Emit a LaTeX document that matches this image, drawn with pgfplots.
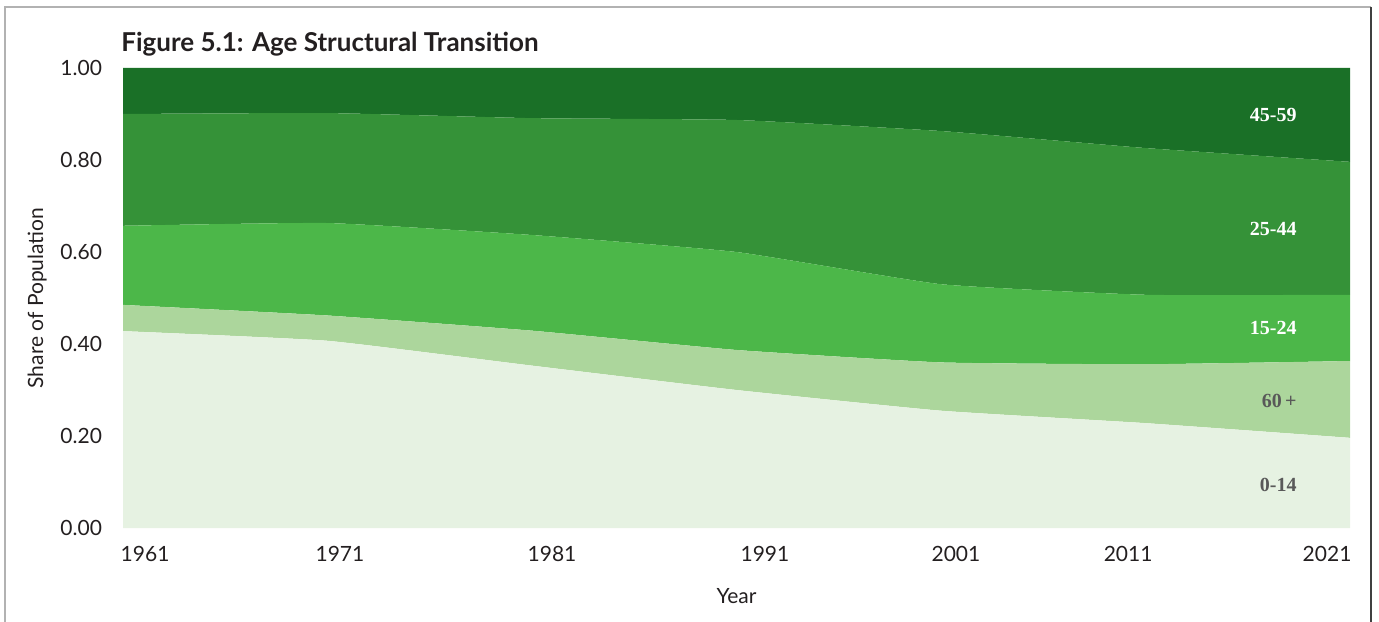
\documentclass[border=0pt]{standalone}
\usepackage{fontspec}
\setmainfont{Lato}
\newfontfamily\labelserif{Liberation Serif}
\usepackage{pgfplots}
\pgfplotsset{compat=1.18}

\definecolor{cA}{RGB}{230,242,226}  % 0-14
\definecolor{cB}{RGB}{172,214,156}  % 60+
\definecolor{cC}{RGB}{76,183,73}    % 15-24
\definecolor{cD}{RGB}{53,146,56}    % 25-44
\definecolor{cE}{RGB}{26,112,39}    % 45-59
\definecolor{txt}{RGB}{35,31,32}

\tikzset{arealabel/.style={anchor=east, inner sep=0pt, font=\labelserif\bfseries\fontsize{10}{12}\selectfont}}

\begin{document}
\begin{tikzpicture}
\useasboundingbox (0,0) rectangle (689.5pt,310.5pt);
% figure frame (bottom edge is cut off in the original)
\draw[gray!60, line width=0.8pt] (2.5pt,-2pt) -- (2.5pt,307pt) -- (685.5pt,307pt);
\draw[black!75, line width=0.8pt] (685.5pt,307pt) -- (685.5pt,-2pt);
\node[anchor=base west, inner sep=0pt, text=txt, font=\bfseries\fontsize{13}{15}\selectfont]
  at (60.5pt,284.5pt) {Figure 5.1: Age Structural Transition};

\begin{axis}[
  name=ax,
  at={(61.5pt,46.5pt)}, anchor=south west,
  scale only axis, width=613.5pt, height=230pt,
  xmin=1961, xmax=2021, ymin=0, ymax=1,
  axis line style={draw=none}, major tick length=0pt,
  stack plots=y,
  xtick={1962.08,1971.61,1981.98,1992.39,2001.73,2010.15,2019.88},
  xticklabels={1961,1971,1981,1991,2001,2011,2021},
  ytick={0,0.2,0.4,0.6,0.8,1},
  /pgf/number format/assume math mode=true,
  y tick label style={/pgf/number format/fixed, /pgf/number format/fixed zerofill,
    /pgf/number format/precision=2},
  tick label style={font=\fontsize{10.5}{12}\selectfont, text=txt},
  xticklabel style={anchor=center, yshift=-13pt},
  yticklabel style={anchor=east, xshift=-7pt},
  xlabel={Year}, ylabel={Share of Population},
  label style={font=\fontsize{10.5}{12}\selectfont, text=txt},
  xlabel style={at={(axis description cs:0.5,-0.148)}, anchor=center},
  ylabel style={at={(axis description cs:-0.07,0.5)}, anchor=center},
]
% 0-14
\addplot[draw=none, fill=cA, smooth, tension=0.25] coordinates {
  (1961,0.428) (1971,0.407) (1981,0.353) (1991,0.300) (2001,0.255) (2011,0.228) (2021,0.196)} \closedcycle;
% 60+
\addplot[draw=none, fill=cB, smooth, tension=0.25] coordinates {
  (1961,0.057) (1971,0.055) (1981,0.076) (1991,0.087) (2001,0.105) (2011,0.128) (2021,0.167)} \closedcycle;
% 15-24
\addplot[draw=none, fill=cC, smooth, tension=0.25] coordinates {
  (1961,0.172) (1971,0.201) (1981,0.208) (1991,0.213) (2001,0.170) (2011,0.151) (2021,0.144)} \closedcycle;
% 25-44
\addplot[draw=none, fill=cD, smooth, tension=0.25] coordinates {
  (1961,0.243) (1971,0.239) (1981,0.254) (1991,0.287) (2001,0.333) (2011,0.319) (2021,0.289)} \closedcycle;
% 45-59
\addplot[draw=none, fill=cE, smooth, tension=0.25] coordinates {
  (1961,0.100) (1971,0.098) (1981,0.109) (1991,0.113) (2001,0.137) (2011,0.174) (2021,0.204)} \closedcycle;
\end{axis}

% band labels, right-aligned near the right end of the plot area
\node[arealabel, text=white] at (648.5pt,253pt) {45-59};
\node[arealabel, text=white] at (648.5pt,196pt) {25-44};
\node[arealabel, text=white] at (648.5pt,146.5pt) {15-24};
\node[arealabel, text=black!65] at (648.5pt,110pt) {60\,+};
\node[arealabel, text=black!65] at (648.5pt,68pt) {0-14};
\end{tikzpicture}
\end{document}
